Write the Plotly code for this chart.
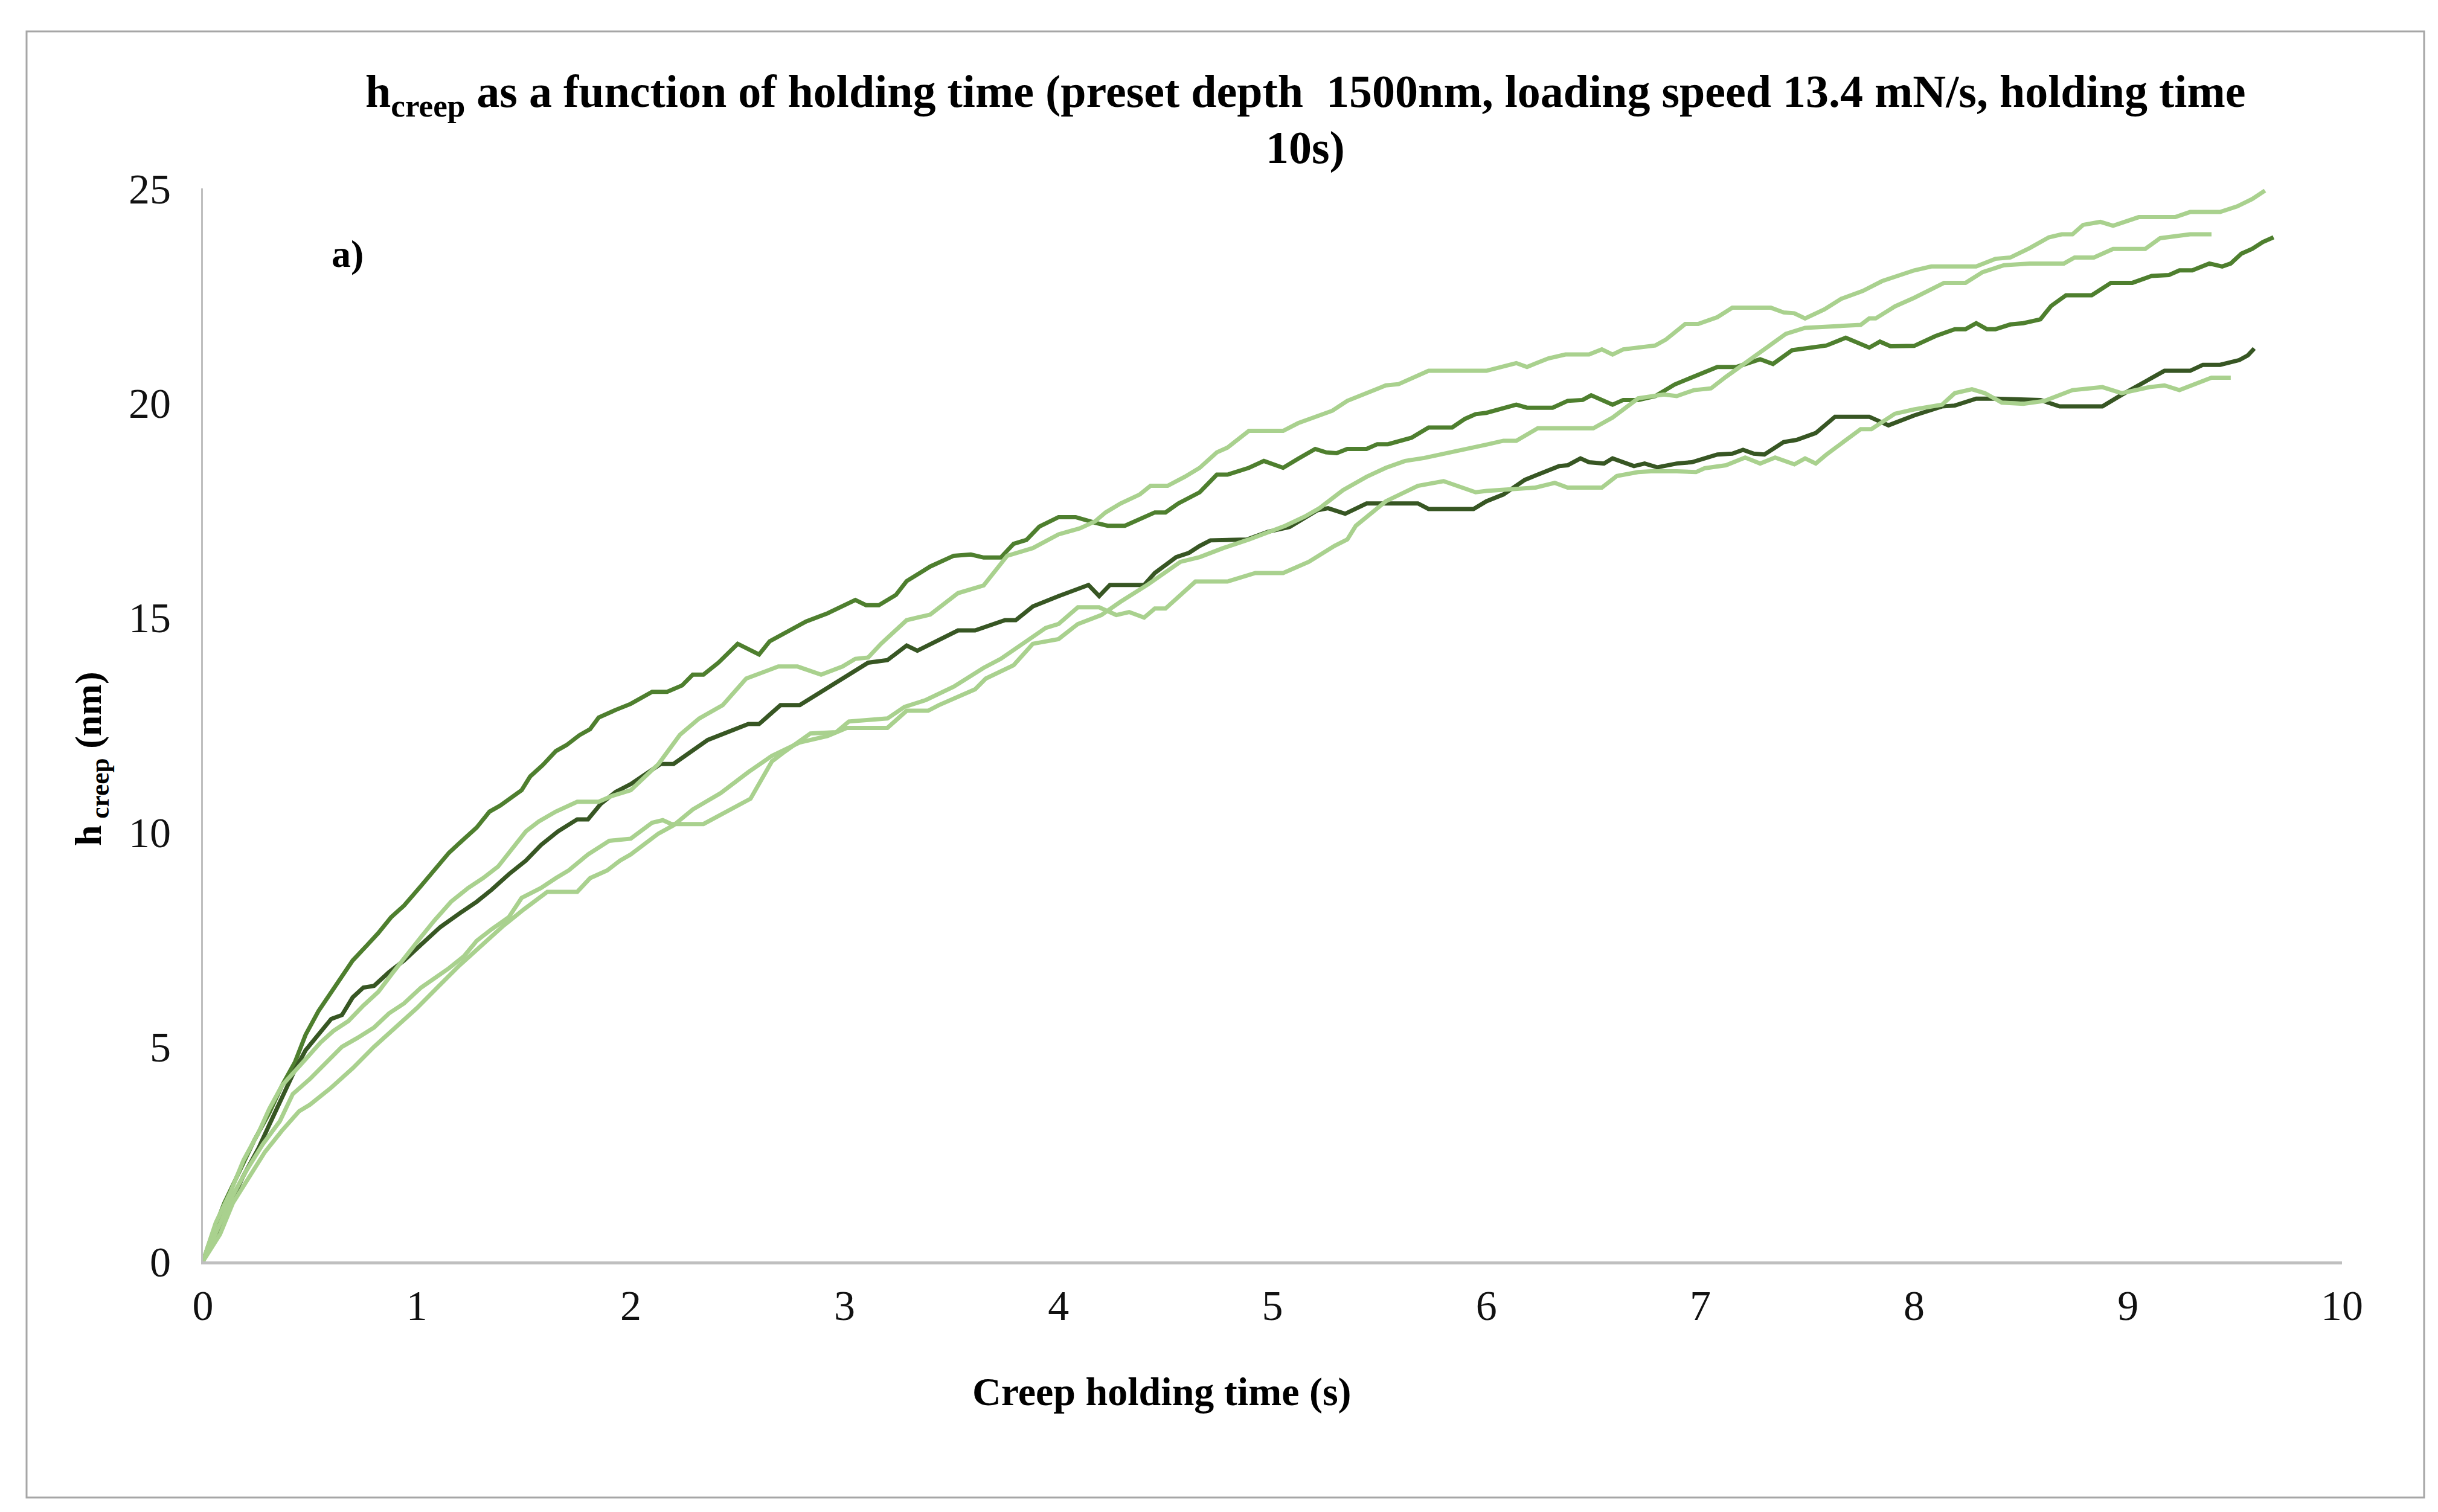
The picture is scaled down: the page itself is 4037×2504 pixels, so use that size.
import plotly.graph_objects as go

# ---- data ----
t_a = [0, 0.05, 0.10, 0.17, 0.24, 0.31, 0.37, 0.43, 0.48, 0.54, 0.59, 0.64, 0.70, 0.77, 0.82, 0.88, 0.94,
       1.02, 1.08, 1.15, 1.22, 1.28, 1.34, 1.39, 1.49, 1.53, 1.59, 1.65, 1.70, 1.76, 1.81, 1.85, 1.93,
       2.00, 2.10, 2.17, 2.24, 2.29, 2.34, 2.41, 2.50, 2.60, 2.65, 2.74, 2.82, 2.92, 3.05, 3.10, 3.16,
       3.24, 3.29, 3.40, 3.51, 3.59, 3.65, 3.73, 3.79, 3.85, 3.91, 4.00, 4.08, 4.17, 4.23, 4.31, 4.38,
       4.45, 4.50, 4.56, 4.66, 4.74, 4.79, 4.89, 4.96, 5.05, 5.12, 5.20, 5.25, 5.30, 5.35, 5.44, 5.49,
       5.54, 5.65, 5.73, 5.84, 5.90, 5.95, 6.00, 6.14, 6.19, 6.31, 6.38, 6.45, 6.49, 6.59, 6.64, 6.71,
       6.79, 6.88, 6.97, 7.08, 7.17, 7.28, 7.34, 7.43, 7.59, 7.68, 7.79, 7.84, 7.89, 8.00, 8.10, 8.19,
       8.24, 8.29, 8.34, 8.38, 8.45, 8.51, 8.59, 8.64, 8.71, 8.83, 8.92, 9.02, 9.11, 9.19, 9.24, 9.30,
       9.38, 9.44, 9.48, 9.53, 9.58, 9.63, 9.68]
h_a = [0, 0.72, 1.36, 2.09, 2.82, 3.46, 4.10, 4.64, 5.28, 5.83, 6.19, 6.56, 7.01, 7.38, 7.65, 8.02, 8.29,
       8.75, 9.11, 9.52, 9.84, 10.11, 10.48, 10.62, 10.98, 11.30, 11.57, 11.89, 12.03, 12.26, 12.40, 12.67, 12.85,
       12.99, 13.27, 13.27, 13.42, 13.67, 13.67, 13.95, 14.39, 14.14, 14.45, 14.70, 14.91, 15.10, 15.41, 15.29, 15.29,
       15.53, 15.85, 16.19, 16.44, 16.47, 16.40, 16.40, 16.72, 16.81, 17.12, 17.34, 17.34, 17.21, 17.14, 17.14, 17.29,
       17.45, 17.45, 17.66, 17.92, 18.33, 18.33, 18.49, 18.65, 18.49, 18.70, 18.93, 18.85, 18.83, 18.93, 18.93, 19.04,
       19.04, 19.19, 19.43, 19.43, 19.63, 19.74, 19.77, 19.96, 19.89, 19.89, 20.05, 20.07, 20.18, 19.96, 20.07, 20.07,
       20.16, 20.43, 20.61, 20.84, 20.84, 21.02, 20.91, 21.23, 21.34, 21.52, 21.29, 21.43, 21.32, 21.33, 21.56, 21.72,
       21.72, 21.86, 21.72, 21.72, 21.83, 21.86, 21.95, 22.26, 22.51, 22.51, 22.80, 22.80, 22.96, 22.98, 23.09, 23.09,
       23.25, 23.18, 23.25, 23.48, 23.59, 23.75, 23.86]

t_b = [0, 0.08, 0.13, 0.19, 0.26, 0.31, 0.37, 0.43, 0.48, 0.54, 0.60, 0.65, 0.70, 0.75, 0.80, 0.87, 0.94,
       1.02, 1.11, 1.20, 1.28, 1.35, 1.43, 1.51, 1.58, 1.66, 1.75, 1.80, 1.86, 1.93, 2.00, 2.14, 2.20,
       2.36, 2.55, 2.60, 2.70, 2.79, 2.89, 2.99, 3.11, 3.20, 3.29, 3.34, 3.53, 3.61, 3.75, 3.80, 3.88,
       4.00, 4.08, 4.14, 4.19, 4.24, 4.40, 4.45, 4.55, 4.61, 4.66, 4.71, 4.88, 4.98, 5.08, 5.21, 5.26,
       5.34, 5.44, 5.68, 5.73, 5.94, 6.00, 6.08, 6.18, 6.34, 6.38, 6.44, 6.48, 6.55, 6.59, 6.69, 6.74,
       6.80, 6.89, 6.96, 7.02, 7.08, 7.15, 7.20, 7.25, 7.30, 7.39, 7.45, 7.54, 7.63, 7.79, 7.88, 8.00,
       8.13, 8.19, 8.29, 8.38, 8.59, 8.68, 8.88, 8.97, 9.07, 9.17, 9.29, 9.35, 9.43, 9.52, 9.56, 9.59]
h_b = [0, 0.81, 1.36, 2.00, 2.64, 3.18, 3.82, 4.46, 4.92, 5.28, 5.65, 5.74, 6.15, 6.38, 6.42, 6.74, 7.01,
       7.38, 7.79, 8.11, 8.38, 8.66, 9.02, 9.34, 9.70, 10.02, 10.30, 10.30, 10.66, 10.94, 11.12, 11.59, 11.59,
       12.15, 12.52, 12.52, 12.96, 12.96, 13.27, 13.58, 13.95, 14.01, 14.35, 14.23, 14.70, 14.70, 14.94, 14.94, 15.26,
       15.50, 15.65, 15.76, 15.50, 15.76, 15.76, 16.04, 16.41, 16.51, 16.67, 16.80, 16.82, 17.00, 17.11, 17.50, 17.55,
       17.42, 17.66, 17.66, 17.53, 17.53, 17.71, 17.87, 18.21, 18.53, 18.55, 18.71, 18.62, 18.59, 18.71, 18.53, 18.59,
       18.50, 18.59, 18.62, 18.71, 18.80, 18.82, 18.91, 18.82, 18.80, 19.09, 19.14, 19.30, 19.68, 19.68, 19.48, 19.71,
       19.92, 19.94, 20.10, 20.10, 20.07, 19.92, 19.92, 20.19, 20.46, 20.75, 20.75, 20.89, 20.89, 21.00, 21.11, 21.27]

t_c = [0, 0.06, 0.13, 0.19, 0.26, 0.31, 0.37, 0.42, 0.48, 0.55, 0.61, 0.68, 0.75, 0.82, 0.89, 0.96,
       1.02, 1.08, 1.16, 1.24, 1.31, 1.38, 1.44, 1.51, 1.57, 1.65, 1.75, 1.85, 1.91, 2.00, 2.13, 2.23,
       2.32, 2.43, 2.54, 2.69, 2.78, 2.89, 2.99, 3.05, 3.11, 3.17, 3.29, 3.40, 3.53, 3.65, 3.76, 3.88,
       4.00, 4.10, 4.17, 4.22, 4.29, 4.38, 4.43, 4.51, 4.59, 4.66, 4.74, 4.79, 4.89, 5.05, 5.12, 5.28,
       5.35, 5.53, 5.59, 5.73, 6.00, 6.14, 6.19, 6.29, 6.37, 6.48, 6.54, 6.59, 6.64, 6.74, 6.79, 6.84,
       6.93, 6.99, 7.08, 7.15, 7.33, 7.39, 7.44, 7.49, 7.58, 7.66, 7.76, 7.85, 8.00, 8.08, 8.29, 8.38,
       8.45, 8.54, 8.63, 8.69, 8.74, 8.79, 8.87, 8.93, 9.05, 9.22, 9.29, 9.43, 9.51, 9.58, 9.64]
h_c = [0, 0.90, 1.63, 2.36, 3.00, 3.55, 4.10, 4.37, 4.73, 5.10, 5.37, 5.60, 5.96, 6.28, 6.74, 7.20,
       7.56, 7.93, 8.38, 8.70, 8.93, 9.20, 9.57, 10.02, 10.25, 10.48, 10.71, 10.71, 10.84, 10.98, 11.59, 12.27,
       12.65, 12.96, 13.58, 13.86, 13.86, 13.67, 13.86, 14.04, 14.07, 14.39, 14.94, 15.07, 15.57, 15.75, 16.44, 16.62,
       16.94, 17.08, 17.24, 17.45, 17.66, 17.87, 18.07, 18.07, 18.28, 18.49, 18.85, 18.96, 19.35, 19.35, 19.53, 19.82,
       20.05, 20.41, 20.44, 20.75, 20.75, 20.93, 20.84, 21.04, 21.13, 21.13, 21.25, 21.13, 21.25, 21.32, 21.34, 21.48,
       21.84, 21.84, 22.00, 22.22, 22.22, 22.11, 22.09, 21.97, 22.18, 22.43, 22.61, 22.84, 23.09, 23.18, 23.18, 23.36,
       23.39, 23.61, 23.86, 23.93, 23.93, 24.15, 24.22, 24.13, 24.33, 24.33, 24.45, 24.45, 24.58, 24.75, 24.95]

t_d = [0, 0.08, 0.14, 0.20, 0.28, 0.36, 0.42, 0.50, 0.58, 0.65, 0.72, 0.80, 0.87, 0.94,
       1.02, 1.10, 1.15, 1.22, 1.28, 1.35, 1.43, 1.49, 1.58, 1.65, 1.71, 1.80, 1.90, 2.00, 2.10, 2.15,
       2.19, 2.34, 2.42, 2.56, 2.66, 2.71, 2.84, 2.96, 3.02, 3.20, 3.28, 3.38, 3.51, 3.65, 3.73, 3.81,
       3.94, 4.00, 4.09, 4.19, 4.27, 4.33, 4.40, 4.45, 4.50, 4.64, 4.79, 4.92, 5.05, 5.17, 5.29, 5.35,
       5.39, 5.53, 5.68, 5.80, 5.89, 5.95, 6.00, 6.23, 6.32, 6.38, 6.54, 6.61, 6.71, 6.77, 6.89, 6.98,
       7.02, 7.12, 7.21, 7.28, 7.35, 7.44, 7.49, 7.54, 7.59, 7.65, 7.75, 7.80, 7.91, 8.00, 8.13, 8.19,
       8.27, 8.33, 8.41, 8.51, 8.61, 8.74, 8.88, 8.97, 9.10, 9.17, 9.24, 9.39, 9.48]
h_d = [0, 0.90, 1.54, 2.09, 2.73, 3.27, 3.90, 4.25, 4.65, 5.00, 5.20, 5.45, 5.78, 6.01,
       6.38, 6.65, 6.83, 7.11, 7.47, 7.74, 8.02, 8.47, 8.70, 8.93, 9.11, 9.48, 9.80, 9.85, 10.22, 10.28,
       10.19, 10.19, 10.41, 10.78, 11.65, 11.84, 12.30, 12.33, 12.58, 12.65, 12.92, 13.08, 13.39, 13.83, 14.04, 14.32,
       14.76, 14.85, 15.24, 15.24, 15.06, 15.13, 15.00, 15.21, 15.21, 15.84, 15.84, 16.04, 16.04, 16.30, 16.67, 16.82,
       17.14, 17.71, 18.07, 18.18, 18.02, 17.92, 17.95, 18.03, 18.14, 18.03, 18.03, 18.30, 18.39, 18.41, 18.41, 18.39,
       18.48, 18.55, 18.73, 18.59, 18.73, 18.57, 18.71, 18.59, 18.80, 19.03, 19.39, 19.39, 19.75, 19.85, 19.96, 20.23,
       20.32, 20.23, 20.01, 19.98, 20.05, 20.30, 20.37, 20.23, 20.37, 20.41, 20.30, 20.59, 20.59]

t_e = [0, 0.08, 0.14, 0.22, 0.29, 0.37, 0.45, 0.50, 0.60, 0.70, 0.80, 0.90,
       1.00, 1.10, 1.20, 1.30, 1.40, 1.50, 1.61, 1.75, 1.81, 1.89, 1.95, 2.00, 2.13, 2.20, 2.29, 2.42,
       2.55, 2.66, 2.79, 2.92, 3.01, 3.20, 3.29, 3.39, 3.44, 3.61, 3.66, 3.79, 3.88, 4.00, 4.09, 4.20,
       4.29, 4.42, 4.57, 4.66, 4.77, 4.89, 4.97, 5.06, 5.15, 5.22, 5.33, 5.44, 5.53, 5.62, 5.71, 5.84,
       6.00, 6.08, 6.14, 6.24, 6.50, 6.59, 6.71, 6.83, 6.89, 6.97, 7.05, 7.12, 7.20, 7.31, 7.40, 7.49,
       7.75, 7.79, 7.82, 7.91, 8.00, 8.14, 8.24, 8.32, 8.42, 8.54, 8.70, 8.75, 8.84, 8.93, 9.08, 9.15,
       9.20, 9.29, 9.39]
h_e = [0, 0.63, 1.36, 2.00, 2.55, 3.05, 3.50, 3.65, 4.05, 4.50, 5.00, 5.45,
       5.90, 6.40, 6.90, 7.35, 7.80, 8.20, 8.61, 8.61, 8.93, 9.11, 9.34, 9.48, 9.97, 10.16, 10.53, 10.91,
       11.40, 11.78, 12.09, 12.24, 12.43, 12.43, 12.83, 12.83, 12.96, 13.33, 13.58, 13.89, 14.39, 14.50, 14.85, 15.06,
       15.37, 15.78, 16.30, 16.41, 16.62, 16.82, 16.98, 17.14, 17.35, 17.55, 17.97, 18.28, 18.49, 18.65, 18.72, 18.85,
       19.03, 19.12, 19.12, 19.41, 19.41, 19.66, 20.11, 20.20, 20.16, 20.30, 20.34, 20.61, 20.89, 21.29, 21.61, 21.75,
       21.82, 21.97, 21.97, 22.25, 22.45, 22.80, 22.80, 23.05, 23.21, 23.25, 23.25, 23.39, 23.39, 23.59, 23.59, 23.84,
       23.88, 23.93, 23.93]

x_ticks = [0, 1, 2, 3, 4, 5, 6, 7, 8, 9, 10]
y_ticks = [0, 5, 10, 15, 20, 25]

title_line1 = ("<b>h<sub>creep</sub> as a function of holding time (preset depth\u00a0 1500nm, "
               "loading speed 13.4 mN/s, holding time</b>")
title_line2 = "<b>10s)</b>"
x_title = "<b>Creep holding time (s)</b>"
y_title = "<b>h<sub> creep</sub> (nm)</b>"
panel_label = "<b>a)</b>"

# ---- styles ----
DARK = "#375623"
MED = "#4E7F2E"
LIGHT = "#A9D18E"
FONT = "Liberation Serif"

series = [
    (t_a, h_a, MED),
    (t_b, h_b, DARK),
    (t_c, h_c, LIGHT),
    (t_d, h_d, LIGHT),
    (t_e, h_e, LIGHT),
]

fig = go.Figure()
for tx, hy, col in series:
    fig.add_trace(go.Scatter(x=tx, y=hy, mode="lines",
                             line=dict(color=col, width=7), showlegend=False,
                             hoverinfo="skip"))

W, H = 4037, 2504
L, R, T, B = 328, 167, 304, 423
pw, ph = W - L - R, H - T - B

def px(xp):
    return (xp - L) / pw

def py(yp):
    return (H - B - yp) / ph

fig.update_layout(
    width=W, height=H,
    margin=dict(l=L, r=R, t=T, b=B),
    paper_bgcolor="white", plot_bgcolor="white",
    font=dict(family=FONT, color="#000000"),
    showlegend=False,
)

fig.update_xaxes(range=[0, 10], tickvals=x_ticks, ticktext=[str(v) for v in x_ticks],
                 showgrid=False, zeroline=False, showline=True, linecolor="#BFBFBF",
                 linewidth=5, ticks="", tickfont=dict(family=FONT, size=70, color="#111111"),
                 ticklabelstandoff=8)
fig.update_yaxes(range=[0, 25], tickvals=y_ticks, ticktext=[str(v) for v in y_ticks],
                 showgrid=False, zeroline=False, showline=True, linecolor="#BFBFBF",
                 linewidth=3, ticks="", tickfont=dict(family=FONT, size=70, color="#111111"),
                 ticklabelstandoff=36)

# outer frame
fig.add_shape(type="rect", xref="paper", yref="paper",
              x0=px(36), x1=px(4006), y0=py(2472), y1=py(44),
              line=dict(color="#A6A6A6", width=3), fillcolor="rgba(0,0,0,0)", layer="below")

fig.add_annotation(text=title_line1, xref="paper", yref="paper", x=px(2153), y=py(149),
                   xanchor="center", yanchor="middle", showarrow=False, align="center",
                   font=dict(family=FONT, size=76, color="#000000"))
fig.add_annotation(text=title_line2, xref="paper", yref="paper", x=px(2153), y=py(237),
                   xanchor="center", yanchor="middle", showarrow=False, align="center",
                   font=dict(family=FONT, size=76, color="#000000"))
fig.add_annotation(text=x_title, xref="paper", yref="paper", x=px(1916), y=py(2297),
                   xanchor="center", yanchor="middle", showarrow=False,
                   font=dict(family=FONT, size=66, color="#000000"))
fig.add_annotation(text=y_title, xref="paper", yref="paper", x=px(142), y=py(1249),
                   xanchor="center", yanchor="middle", showarrow=False, textangle=-90,
                   font=dict(family=FONT, size=62, color="#000000"))
fig.add_annotation(text=panel_label, xref="paper", yref="paper", x=px(567), y=py(412),
                   xanchor="center", yanchor="middle", showarrow=False,
                   font=dict(family=FONT, size=64, color="#000000"))

fig.write_html("out.html")
